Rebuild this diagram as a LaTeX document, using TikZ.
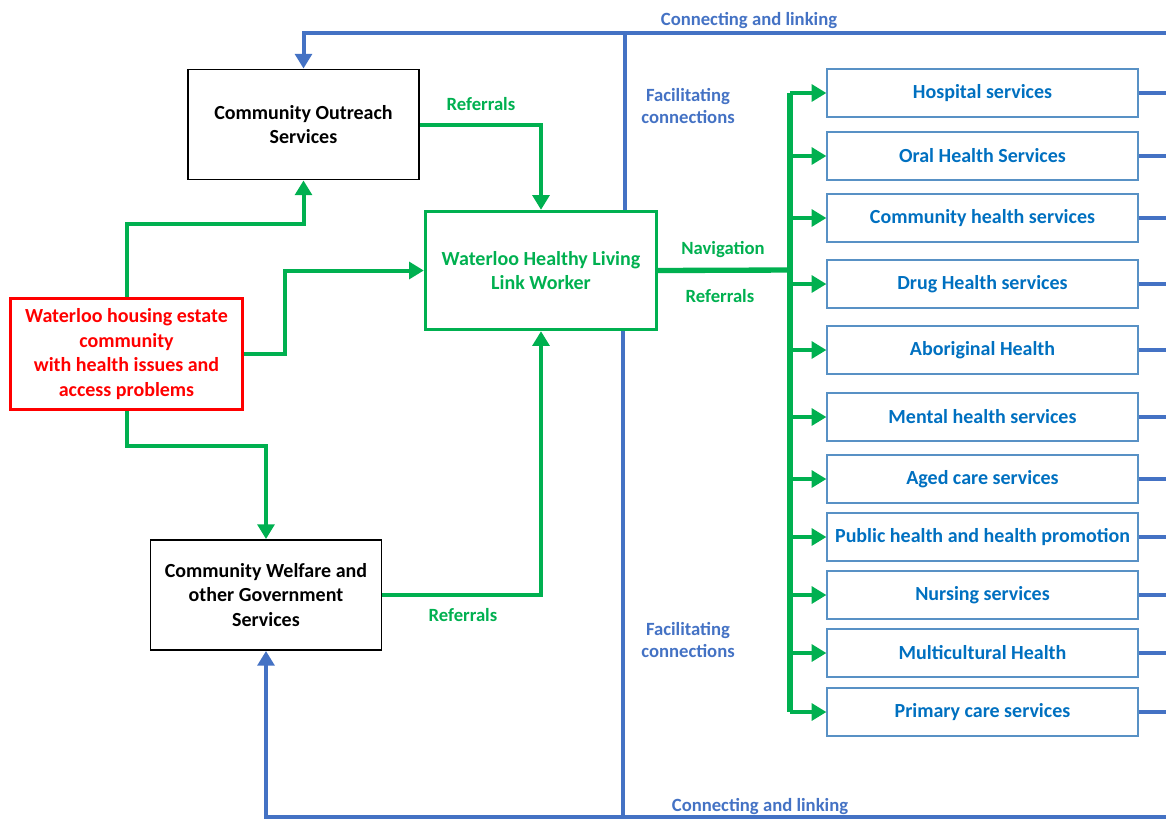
\documentclass[tikz,border=0pt]{standalone}
\usepackage{fontspec}
\setmainfont{Carlito}
\usetikzlibrary{arrows.meta}
\definecolor{gr}{HTML}{00B050}
\definecolor{bl}{HTML}{4472C4}
\definecolor{sv}{HTML}{0070C0}
\definecolor{svb}{HTML}{2E75B6}
\definecolor{rd}{HTML}{FF0000}
\tikzset{
  base/.style={font=\fontsize{15}{18.3}\selectfont\bfseries, align=center, inner sep=0pt},
  blk/.style={base, draw=black, line width=1.4pt, minimum width=231*0.75pt, minimum height=110*0.75pt},
  grbox/.style={base, draw=gr, text=gr, line width=2.5pt, minimum width=231*0.75pt, minimum height=118*0.75pt},
  rdbox/.style={base, draw=rd, text=rd, line width=2.5pt, minimum width=232*0.75pt, minimum height=111*0.75pt},
  svbox/.style={base, draw=svb!80, text=sv, line width=0.9pt, minimum width=311*0.75pt, minimum height=48*0.75pt},
  gline/.style={draw=gr, line width=3pt},
  garr/.style={gline, -{Triangle[length=11pt,width=12.5pt]}},
  bline/.style={draw=bl, line width=3pt},
  barr/.style={bline, -{Triangle[length=11pt,width=12.5pt]}},
  lab/.style={font=\fontsize{14}{17}\selectfont\bfseries, align=center, inner sep=0pt},
  glab/.style={lab, text=gr},
  blab/.style={lab, text=bl},
}
\begin{document}
\begin{tikzpicture}[x=0.75pt,y=-0.75pt]
\useasboundingbox (0,0) rectangle (1166,819);
% main boxes
\node[blk] (out) at (303.5,124.5) {Community Outreach\\Services};
\node[grbox] (link) at (541,270.5) {Waterloo Healthy Living\\Link Worker};
\node[rdbox] (red) at (126.5,354) {Waterloo housing estate\\community\\with health issues and\\access problems};
\node[blk] (wel) at (266,595) {Community Welfare and\\other Government\\Services};
% service boxes
\node[svbox] (s1) at (982.5,93) {Hospital services};
\node[svbox] (s2) at (982.5,156) {Oral Health Services};
\node[svbox] (s3) at (982.5,218) {Community health services};
\node[svbox] (s4) at (982.5,284) {Drug Health services};
\node[svbox] (s5) at (982.5,350) {Aboriginal Health};
\node[svbox] (s6) at (982.5,417) {Mental health services};
\node[svbox] (s7) at (982.5,479) {Aged care services};
\node[svbox] (s8) at (982.5,537) {Public health and health promotion};
\node[svbox] (s9) at (982.5,595) {Nursing services};
\node[svbox] (s10) at (982.5,653) {Multicultural Health};
\node[svbox] (s11) at (982.5,712) {Primary care services};
% labels
\node[blab] (lc1) at (749,21) {Connecting and linking};
\node[blab] (lc2) at (760,806) {Connecting and linking};
\node[blab] (lf1) at (688,106) {Facilitating\\connections};
\node[blab] (lf2) at (688,640) {Facilitating\\connections};
\node[glab] (lr1) at (481,104) {Referrals};
\node[glab] (lr2) at (463,615) {Referrals};
\node[glab] (lnav) at (723,250) {Navigation};
\node[glab] (lr3) at (720,296) {Referrals};
% blue connectors
\coordinate (tr) at (1166,33);
\coordinate (vt) at (625,33);
\coordinate (vb) at (623,817);
\coordinate (br) at (1166,817);
\draw[barr] (tr) -| (out.north);
\draw[bline] (vt) -- (vt |- link.north);
\draw[bline] (vb |- link.south) -- (vb);
\draw[barr] (br) -| (wel.south);
\foreach \i in {1,...,11} {\draw[bline] (s\i.east) -- (s\i.east -| tr);}
% green connectors
\draw[garr] (red.north) -- ++(0,-73) -| (out.south);
\draw[garr] (red.east) -- ++(41,0) |- (link.west);
\draw[garr] (red.south) -- ++(0,35) -| (wel.north);
\draw[garr] (out.east) -| (link.north);
\draw[garr] (wel.east) -| (link.south);
\coordinate (hub) at (790,270);
\draw[draw=gr, line width=4pt] (link.east) -- (hub);
\draw[draw=gr, line width=3.8pt] (hub |- s1.west) -- (hub |- s11.west);
\foreach \i in {1,...,11} {\draw[garr] (hub |- s\i.west) -- (s\i.west);}
\end{tikzpicture}
\end{document}
